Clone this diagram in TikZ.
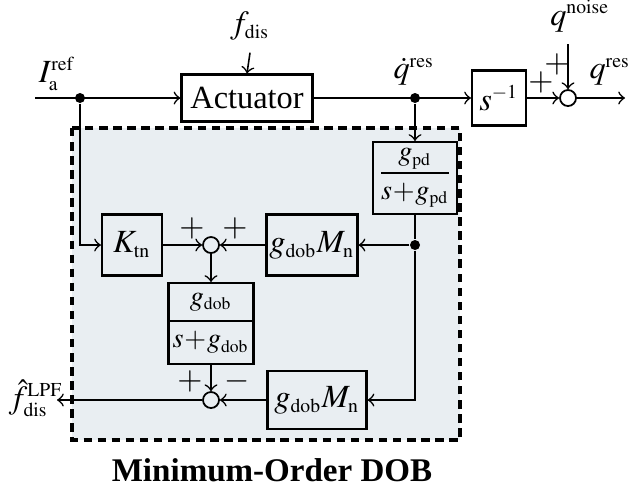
\documentclass[tikz,border=0pt]{standalone}
\usepackage{mathptmx}
\usepackage[no-math]{fontspec}
\setmainfont{Liberation Serif}
\usepackage{amsmath}
\usepackage{tikz}
\usetikzlibrary{arrows,shapes.multipart}
\definecolor{dobfill}{RGB}{233,238,242}
\DeclareMathSizes{9.2}{9.2}{5.6}{4.5}
\DeclareMathSizes{8}{8}{5}{4}

\begin{document}
\begin{tikzpicture}[x=0.01cm,y=-0.01cm,>=to,
	font=\fontsize{9.2}{11}\selectfont,
	blk/.style={draw,line width=0.6pt,inner sep=0pt},
	sumc/.style={draw,circle,line width=0.5pt,minimum size=0.16cm,inner sep=0pt},
	jdot/.style={circle,fill,minimum size=0.1cm,inner sep=0pt},
	sig/.style={->,line width=0.45pt},
	small/.style={font=\fontsize{8}{9.5}\selectfont}]
				\useasboundingbox (0,0) rectangle (637,493);
				\draw[dash pattern=on 2.4pt off 1.6pt,line width=0.9pt,fill=dobfill] (72,128) rectangle (460,440);
				\coordinate (in) at (35,98);
				\node[jdot] (j1) at (80,98) {};
				\node[blk,minimum width=1.31cm,minimum height=0.47cm] (act) at (247,98) {Actuator};
				\node (fdis) at (250,26) {$f_{\mathrm{dis}}$};
				\node[jdot] (j2) at (415,98) {};
				\node[blk,minimum width=0.54cm,minimum height=0.55cm] (sinv) at (499,98) {$s^{-1}$};
				\node[sumc] (sum3) at (568,98) {};
				\node (qn) at (580,16) {$q^{\mathrm{noise}}$};
				\coordinate (out) at (625,98);
				\node[blk,small,minimum width=0.84cm,minimum height=0.72cm] (gpd) at (415,178) {$\dfrac{g_{\mathrm{pd}}}{s\!+\!g_{\mathrm{pd}}}$};
				\node[jdot] (j3) at (415,245) {};
				\node[blk,minimum width=0.6cm,minimum height=0.61cm] (ktn) at (132,245) {$K_{\mathrm{tn}}$};
				\node[sumc] (sum1) at (211,245) {};
				\node[blk,minimum width=0.91cm,minimum height=0.61cm] (gm1) at (312,245) {$g_{\mathrm{dob}}M_{\mathrm{n}}$};
				\node[blk,small,rectangle split,rectangle split parts=2,minimum width=0.85cm,inner ysep=2.6pt,anchor=north] (gdob) at (211,282) {$g_{\mathrm{dob}}$\nodepart{two}$s\!+\!g_{\mathrm{dob}}$};
				\node[sumc] (sum2) at (211,400) {};
				\node[blk,minimum width=0.99cm,minimum height=0.58cm] (gm2) at (317,400) {$g_{\mathrm{dob}}M_{\mathrm{n}}$};
				\coordinate (out2) at (57,400);
				\draw[sig] (in) -- (act.west);
				\draw[sig] (fdis.south) -- (act.north);
				\draw[sig] (act.east) -- (sinv.west);
				\draw[sig] (sinv.east) -- (sum3.west);
				\draw[sig] (sum3 |- qn.south) -- (sum3.north);
				\draw[sig] (sum3.east) -- (out);
				\draw[sig] (j2) -- (gpd.north);
				\draw (gpd.south) -- (j3);
				\draw[sig] (j3) -- (gm1.east);
				\draw[sig] (j3) |- (gm2.east);
				\draw[sig] (j1) |- (ktn.west);
				\draw[sig] (ktn.east) -- (sum1.west);
				\draw[sig] (gm1.west) -- (sum1.east);
				\draw[sig] (sum1.south) -- (gdob.north);
				\draw[sig] (gdob.south) -- (sum2.north);
				\draw[sig] (gm2.west) -- (sum2.east);
				\draw[sig] (sum2.west) -- (out2);
				\node (fhat) at (36,398) {$\hat{f}^{\mathrm{LPF}}_{\mathrm{dis}}$};
				\node (ia) at (57,74) {$I^{\mathrm{ref}}_{\mathrm{a}}$};
				\node (qd) at (414,72) {$\dot{q}^{\mathrm{res}}$};
				\node (qr) at (610,72) {$q^{\mathrm{res}}$};
				\node at (541,82) {$+$};
				\node at (557,64) {$+$};
				\node at (192,228) {$+$};
				\node at (235,228) {$+$};
				\node at (190,381) {$+$};
				\node at (237,381) {$-$};
				\node[font=\fontsize{9.4}{11}\selectfont\bfseries] (title) at (272,470) {Minimum-Order DOB};
	\end{tikzpicture}
\end{document}
